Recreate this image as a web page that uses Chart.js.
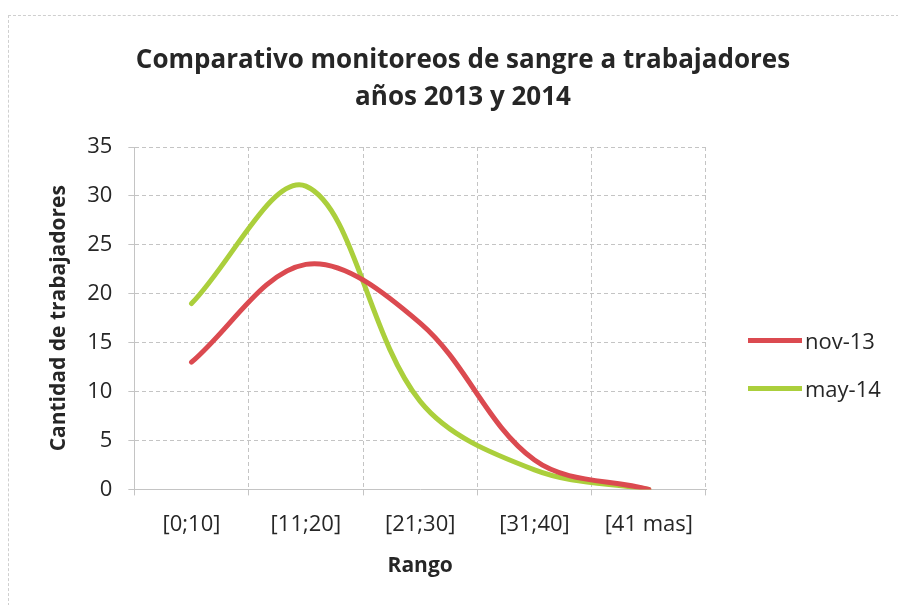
<!DOCTYPE html>
<html>
<head>
<meta charset="utf-8">
<script src="https://cdn.jsdelivr.net/npm/chart.js@4.4.0/dist/chart.umd.min.js"></script>
<style>
  html, body { margin: 0; padding: 0; background: #fff; }
  #wrap { position: relative; width: 898px; height: 605px; font-family: "Open Sans", sans-serif; color: #262626; }
  #frame { position: absolute; left: 8px; top: 15px; width: 900px; height: 600px; border-left: 1px dashed #cfcfcf; border-top: 1px dashed #cfcfcf; }
  #title { position: absolute; left: 0; width: 926px; top: 40px; text-align: center; font-weight: bold; font-size: 26px; line-height: 37px; }
  #legend { position: absolute; left: 748px; top: 316px; font-size: 22px; }
  .item { display: flex; align-items: center; height: 48px; }
  .swatch { width: 54px; height: 5px; margin-right: 3px; }
  canvas { position: absolute; left: 0; top: 0; }
</style>
</head>
<body>
<div id="wrap">
  <div id="frame"></div>
  <canvas id="chart" width="898" height="605"></canvas>
  <div id="title">Comparativo monitoreos de sangre a trabajadores<br>años 2013 y 2014</div>
  <div id="legend"></div>
</div>
<script>
const categories = ['[0;10]', '[11;20]', '[21;30]', '[31;40]', '[41 mas]'];
const seriesNames = ['nov-13', 'may-14'];
const nov13 = [13, 23, 17, 3, 0];
const may14 = [19, 31, 9, 2, 0];
const seriesColors = ['#db4a50', '#abcf3c'];

const gridColor = '#c4c4c4';
const textColor = '#262626';
const tickFont = { family: 'Open Sans', size: 22 };
const axisTitleFont = { family: 'Open Sans', size: 21, weight: 'bold' };

const ctx = document.getElementById('chart').getContext('2d');
const chart = new Chart(ctx, {
    type: 'line',
    data: {
        labels: categories,
        datasets: [
            { label: seriesNames[0], data: nov13, borderColor: seriesColors[0], backgroundColor: seriesColors[0] },
            { label: seriesNames[1], data: may14, borderColor: seriesColors[1], backgroundColor: seriesColors[1] }
        ]
    },
    options: {
        responsive: false,
        animation: false,
        layout: { padding: { left: 46, right: 192, top: 147, bottom: 26 } },
        elements: {
            line: { borderWidth: 5, tension: 0.35, borderCapStyle: 'round' },
            point: { radius: 0 }
        },
        plugins: {
            legend: { display: false },
            title: { display: false },
            tooltip: { enabled: false }
        },
        scales: {
            x: {
                offset: true,
                grid: { offset: true, color: gridColor, tickLength: 6 },
                border: { color: gridColor, dash: [4, 3] },
                ticks: { color: textColor, font: tickFont, padding: 16 },
                title: { display: true, text: 'Rango', color: textColor, font: axisTitleFont, padding: { top: 0, bottom: 0 } }
            },
            y: {
                min: 0,
                max: 35,
                ticks: { stepSize: 5, color: textColor, font: tickFont, padding: 16 },
                grid: { color: gridColor, tickLength: 6 },
                border: { color: gridColor, dash: [4, 3] },
                title: { display: true, text: 'Cantidad de trabajadores', color: textColor, font: axisTitleFont, padding: { top: 0, bottom: 0 } }
            }
        }
    },
    plugins: [{
        id: 'dashedGrid',
        beforeDraw(c) {
            Object.values(c.scales).forEach(s => { s.options.grid.borderDash = [4, 3]; });
        }
    }]
});

// HTML legend from the series
const legend = document.getElementById('legend');
seriesNames.forEach((name, i) => {
    const row = document.createElement('div');
    row.className = 'item';
    row.innerHTML = '<span class="swatch" style="background:' + seriesColors[i] + '"></span><span>' + name + '</span>';
    legend.appendChild(row);
});
</script>
</body>
</html>
